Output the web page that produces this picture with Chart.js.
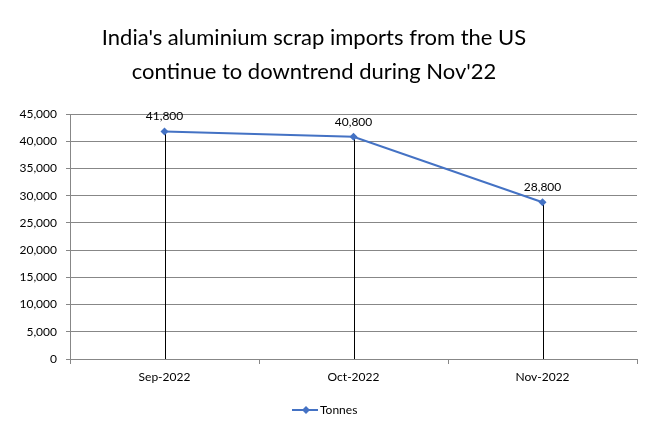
<!DOCTYPE html>
<html>
<head>
<meta charset="utf-8">
<script src="https://cdn.jsdelivr.net/npm/chart.js@4/dist/chart.umd.min.js"></script>
<style>
  html, body { margin: 0; padding: 0; background: #fff; }
  .chart-container { position: relative; width: 648px; height: 430px; }
</style>
</head>
<body>
<div class="chart-container"><canvas id="chart" width="648" height="430"></canvas></div>
<script>
const titleLines = ["India's aluminium scrap imports from the US", "continue to downtrend during Nov'22"];
const months = ['Sep-2022', 'Oct-2022', 'Nov-2022'];
const tonnes = [41800, 40800, 28800];
const seriesName = 'Tonnes';

const FONT = 'Lato, "Liberation Sans", sans-serif';
const BLUE = '#4472C4';
const GRID = '#878787';

// title, drop lines, value labels and legend are drawn by hand (Excel look)
const excelBits = {
    id: 'excelBits',
    beforeDatasetsDraw(chart) {
        const ctx = chart.ctx;
        const meta = chart.getDatasetMeta(0);
        const bottom = chart.chartArea.bottom;
        ctx.save();
        ctx.strokeStyle = '#000';
        ctx.lineWidth = 1;
        meta.data.forEach(pt => {
            const x = Math.round(pt.x) + 0.5;
            ctx.beginPath();
            ctx.moveTo(x, pt.y);
            ctx.lineTo(x, bottom);
            ctx.stroke();
        });
        ctx.restore();
    },
    afterDatasetsDraw(chart) {
        const ctx = chart.ctx;
        const meta = chart.getDatasetMeta(0);
        ctx.save();
        ctx.fillStyle = '#000';
        ctx.font = '12px ' + FONT;
        ctx.textAlign = 'center';
        ctx.textBaseline = 'middle';
        meta.data.forEach((pt, i) => {
            ctx.fillText(tonnes[i].toLocaleString('en-US'), pt.x, pt.y - 15);
        });
        ctx.restore();
    },
    afterDraw(chart) {
        const ctx = chart.ctx;
        ctx.save();
        // title
        ctx.fillStyle = '#000';
        ctx.font = '22px ' + FONT;
        ctx.textAlign = 'center';
        ctx.textBaseline = 'middle';
        ctx.fillText(titleLines[0], 314, 38);
        ctx.fillText(titleLines[1], 314, 72);
        // legend
        const ly = 410;
        ctx.strokeStyle = BLUE;
        ctx.lineWidth = 2;
        ctx.beginPath();
        ctx.moveTo(292, ly);
        ctx.lineTo(318, ly);
        ctx.stroke();
        ctx.fillStyle = BLUE;
        ctx.beginPath();
        ctx.moveTo(306, ly - 4);
        ctx.lineTo(310, ly);
        ctx.lineTo(306, ly + 4);
        ctx.lineTo(302, ly);
        ctx.closePath();
        ctx.fill();
        ctx.fillStyle = '#000';
        ctx.font = '12px ' + FONT;
        ctx.textAlign = 'left';
        ctx.fillText(seriesName, 320, ly);
        ctx.restore();
    }
};

const ctx = document.getElementById('chart').getContext('2d');
new Chart(ctx, {
    type: 'line',
    data: {
        labels: months,
        datasets: [{
            label: seriesName,
            data: tonnes,
            borderColor: BLUE,
            backgroundColor: BLUE,
            borderWidth: 2,
            pointStyle: 'rectRot',
            pointRadius: 4,
            pointBorderWidth: 0,
            tension: 0
        }]
    },
    options: {
        responsive: false,
        animation: false,
        layout: { padding: { left: 0, right: 11, top: 114, bottom: 0 } },
        plugins: {
            legend: { display: false },
            title: { display: false },
            tooltip: { enabled: false }
        },
        scales: {
            x: {
                offset: true,
                afterFit(scale) { scale.height = 71; },
                grid: {
                    offset: true,
                    drawOnChartArea: false,
                    drawTicks: true,
                    tickLength: 5,
                    color: GRID
                },
                border: { color: GRID, width: 1 },
                ticks: {
                    color: '#000',
                    padding: 6,
                    font: { family: FONT, size: 12 }
                }
            },
            y: {
                min: 0,
                max: 45000,
                afterFit(scale) { scale.width = 70; },
                grid: {
                    color: GRID,
                    tickLength: 4
                },
                border: { color: GRID, width: 1 },
                ticks: {
                    stepSize: 5000,
                    color: '#000',
                    padding: 9,
                    font: { family: FONT, size: 12 },
                    callback: v => v.toLocaleString('en-US')
                }
            }
        }
    },
    plugins: [excelBits]
});
</script>
</body>
</html>
